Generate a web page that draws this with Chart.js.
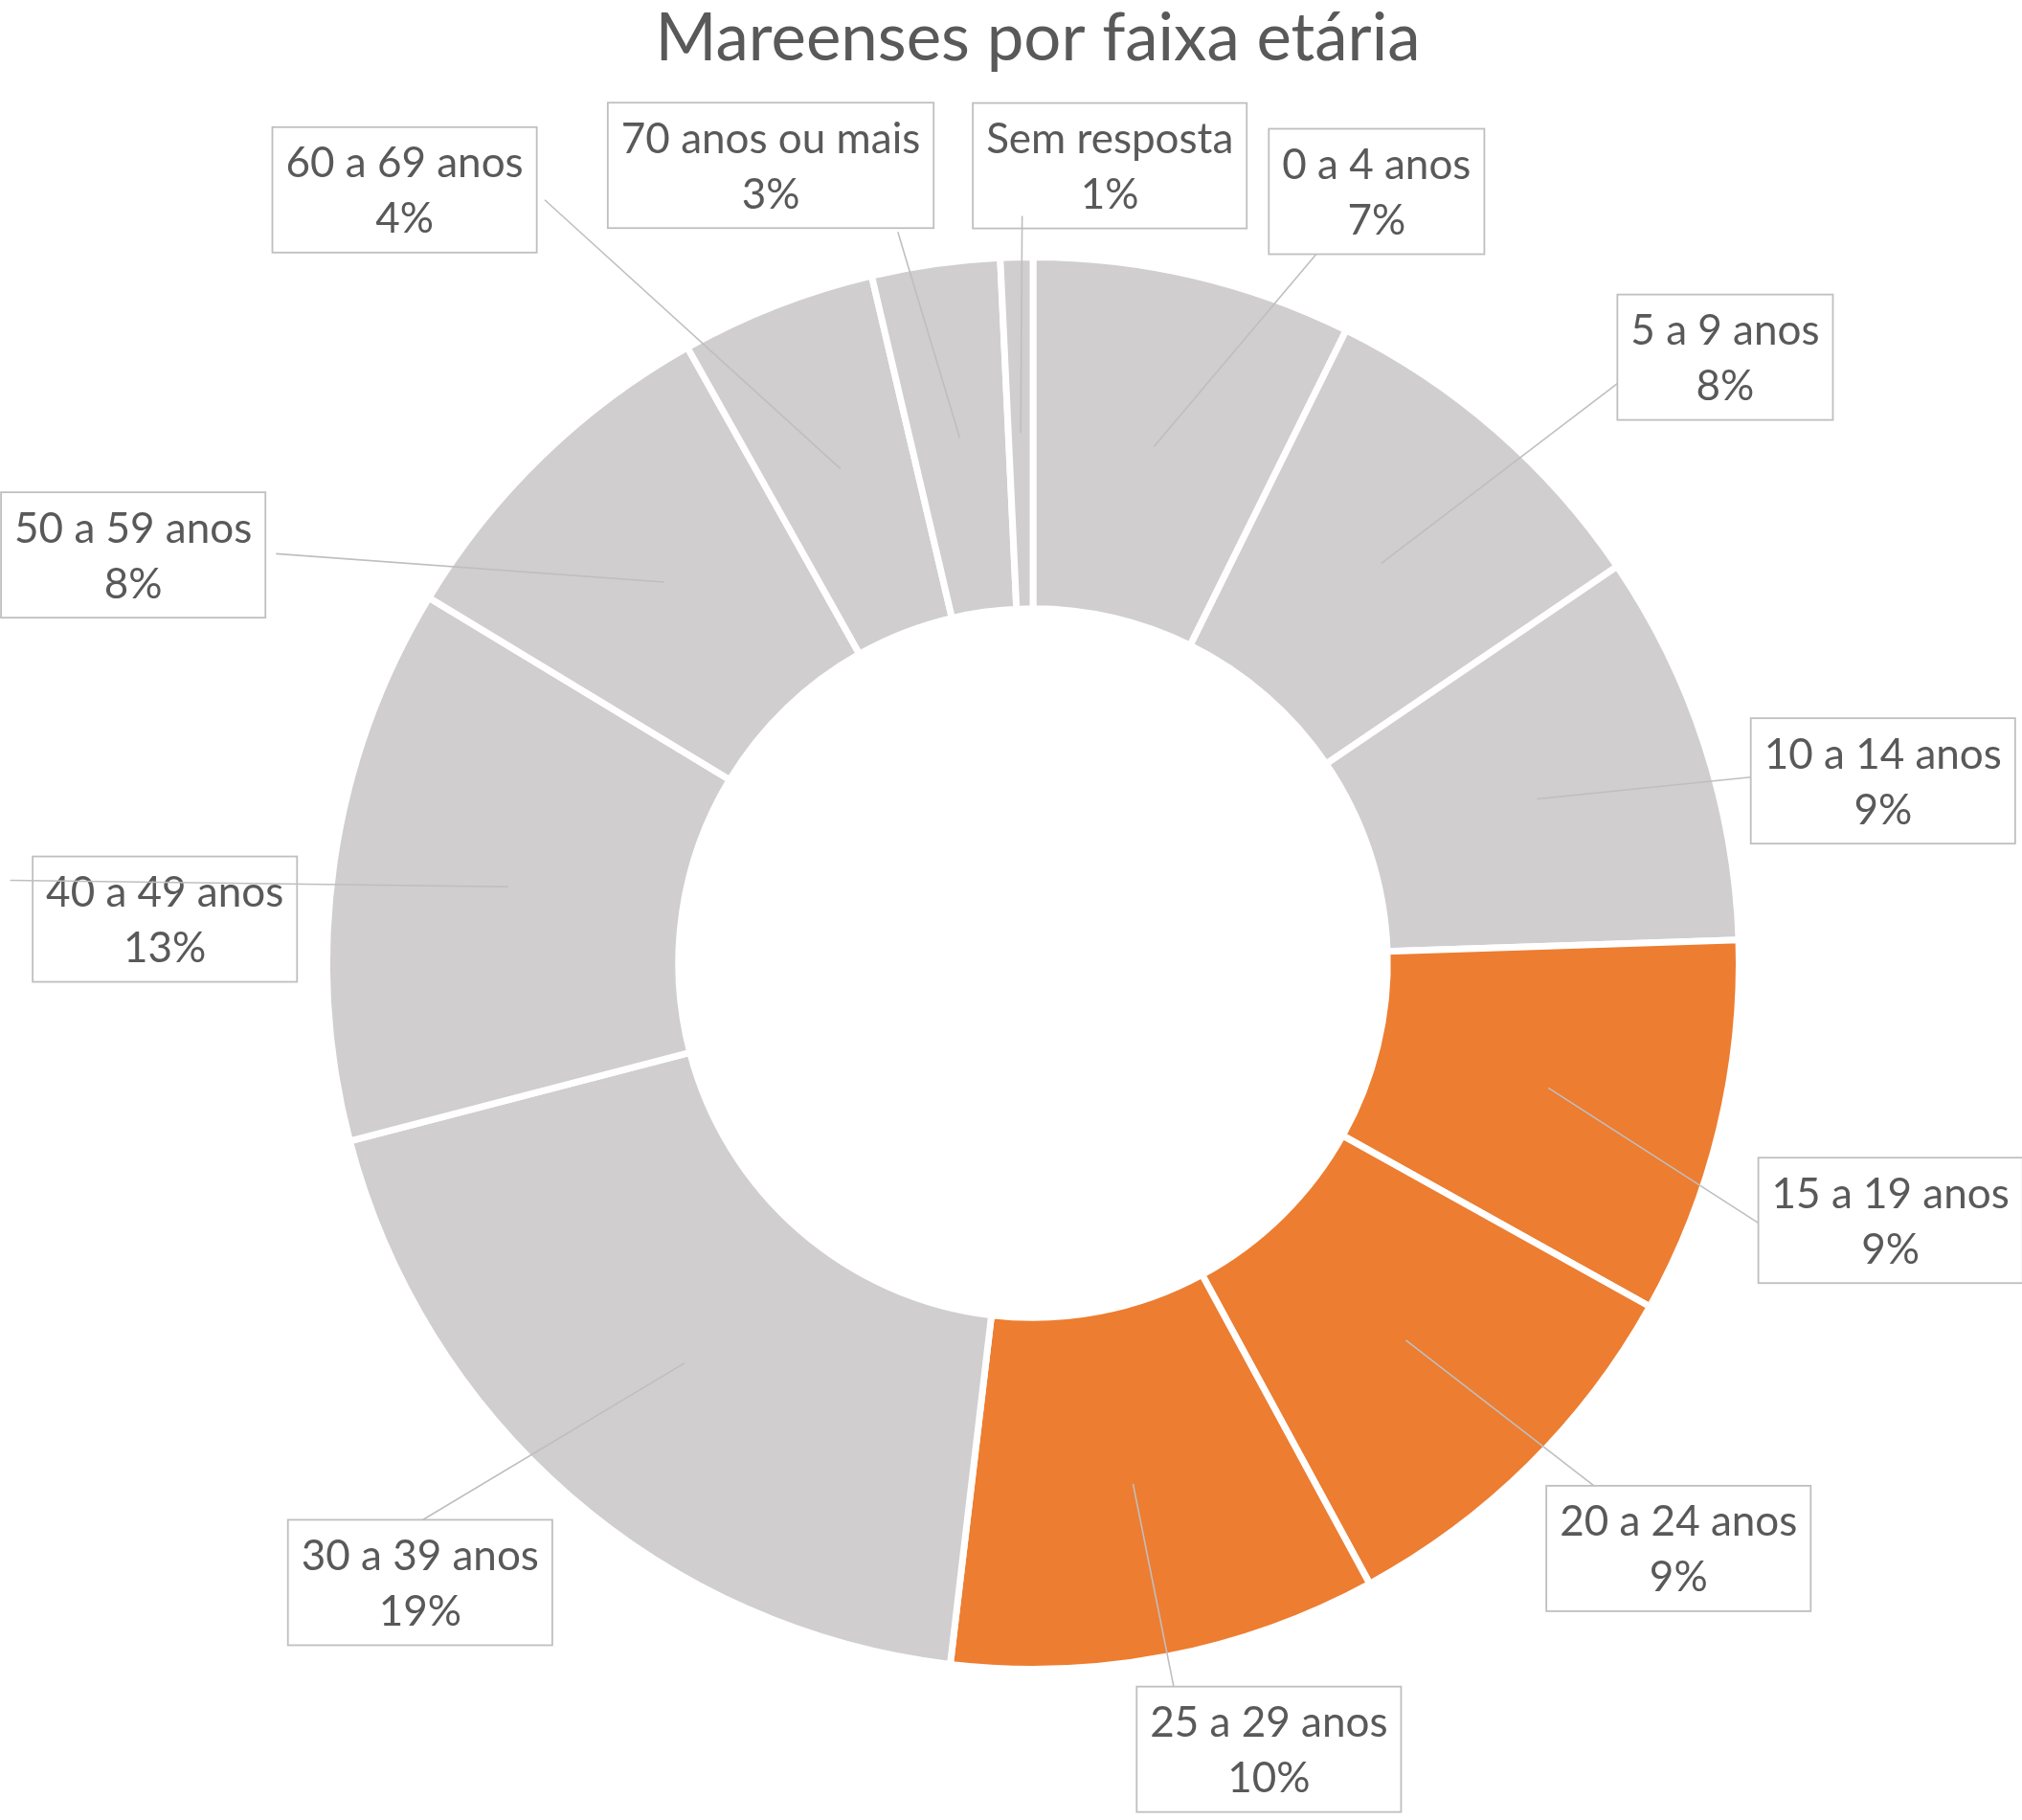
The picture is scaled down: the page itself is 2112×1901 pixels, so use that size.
<!DOCTYPE html>
<html>
<head>
<meta charset="utf-8">
<script src="https://cdn.jsdelivr.net/npm/chart.js@4.4.1/dist/chart.umd.min.js"></script>
<style>
  html, body { margin: 0; padding: 0; background: #ffffff; }
  #c { display: block; }
</style>
</head>
<body>
<canvas id="c" width="2112" height="1901"></canvas>
<script>
// ---- data ----
const chartTitle = 'Mareenses por faixa etária';
const categories = [
  '0 a 4 anos', '5 a 9 anos', '10 a 14 anos', '15 a 19 anos', '20 a 24 anos',
  '25 a 29 anos', '30 a 39 anos', '40 a 49 anos', '50 a 59 anos', '60 a 69 anos',
  '70 anos ou mais', 'Sem resposta'
];
const shares = [7.31, 8.19, 8.97, 8.61, 9.0, 9.78, 19.07, 12.71, 8.2, 4.47, 2.93, 0.74];
const highlighted = ['15 a 19 anos', '20 a 24 anos', '25 a 29 anos'];

// ---- style / layout ----
const baseColor = '#D0CECE';
const highlightColor = '#ED7D31';
const textColor = '#595959';
const frameColor = '#BFBFBF';
const fontFamily = 'Lato, "Open Sans", sans-serif';

// label placement: [angle from 12 o'clock (deg), distance / outer radius, leader attach x-frac, leader attach y-frac]
const labelLayout = [
  [24.0, 1.202, 0.22, 1.0],
  [48.8, 1.309, 0.0, 0.71],
  [77.9, 1.237, 0.0, 0.47],
  [106.7, 1.274, 0.0, 0.52],
  [132.2, 1.240, 0.18, 0.0],
  [163.3, 1.168, 0.14, 0.0],
  [224.7, 1.240, 0.51, 0.0],
  [272.9, 1.237, -0.085, 0.19],
  [294.4, 1.406, 1.04, 0.49],
  [320.9, 1.418, 1.03, 0.58],
  [341.8, 1.195, 0.89, 1.03],
  [5.5, 1.140, 0.18, 0.90]
];

const colors = categories.map(c => highlighted.includes(c) ? highlightColor : baseColor);

const labelPlugin = {
  id: 'boxedLabels',
  afterDatasetsDraw(chart) {
    const ctx = chart.ctx;
    const meta = chart.getDatasetMeta(0);
    const total = shares.reduce((a, b) => a + b, 0);
    const ca = chart.chartArea;
    // title
    ctx.save();
    ctx.fillStyle = textColor;
    ctx.font = '69px ' + fontFamily;
    ctx.textAlign = 'center';
    ctx.textBaseline = 'alphabetic';
    ctx.fillText(chartTitle, (ca.left + ca.right) / 2 + 5, 63);
    ctx.restore();

    ctx.save();
    ctx.font = '44px ' + fontFamily;
    meta.data.forEach((arc, i) => {
      const p = arc.getProps(['x', 'y', 'startAngle', 'endAngle', 'innerRadius', 'outerRadius'], true);
      const mid = (p.startAngle + p.endAngle) / 2;
      const rMid = (p.innerRadius + p.outerRadius) / 2;
      const ax = p.x + Math.cos(mid) * rMid;
      const ay = p.y + Math.sin(mid) * rMid;

      const [deg, dist, fx, fy] = labelLayout[i];
      const th = deg * Math.PI / 180;
      const R = p.outerRadius - 3.5;
      const cx = p.x + Math.sin(th) * R * dist;
      const cy = p.y - Math.cos(th) * R * dist;

      const line1 = categories[i];
      const line2 = Math.round(shares[i] / total * 100) + '%';
      const w = Math.max(ctx.measureText(line1).width, ctx.measureText(line2).width) + 28;
      const h = 131;
      const bx = cx - w / 2, by = cy - h / 2;

      // box
      ctx.strokeStyle = frameColor;
      ctx.lineWidth = 1.8;
      ctx.strokeRect(bx, by, w, h);

      // text
      ctx.fillStyle = textColor;
      ctx.textAlign = 'center';
      ctx.textBaseline = 'alphabetic';
      ctx.fillText(line1, cx, cy - 13);
      ctx.fillText(line2, cx, cy + 45);

      // leader line
      ctx.beginPath();
      ctx.strokeStyle = frameColor;
      ctx.lineWidth = 1.6;
      ctx.moveTo(ax, ay);
      ctx.lineTo(bx + fx * w, by + fy * h);
      ctx.stroke();
    });
    ctx.restore();
  }
};

function draw() {
  new Chart(document.getElementById('c'), {
    type: 'doughnut',
    data: {
      labels: categories,
      datasets: [{
        data: shares,
        backgroundColor: colors,
        borderColor: '#ffffff',
        borderWidth: 7,
        hoverOffset: 0
      }]
    },
    options: {
      responsive: false,
      animation: false,
      cutout: '50.2%',
      rotation: 0,
      layout: { padding: { top: 265, left: 338, right: 292, bottom: 154 } },
      plugins: {
        legend: { display: false },
        title: { display: false },
        tooltip: { enabled: false }
      },
      events: []
    },
    plugins: [labelPlugin]
  });
}

if (document.fonts && document.fonts.load) {
  Promise.all([document.fonts.load('44px Lato'), document.fonts.load('69px Lato')])
    .then(draw, draw);
} else {
  draw();
}
</script>
</body>
</html>
